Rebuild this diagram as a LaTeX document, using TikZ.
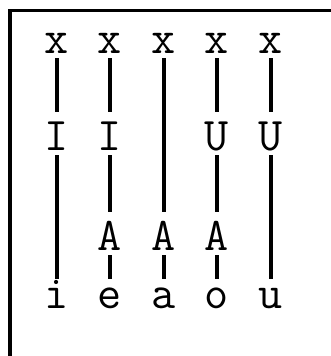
\documentclass[tikz,border=0pt]{standalone}
\usepackage{fontspec}
\tikzset{
  seg/.style={font=\ttfamily\fontsize{47}{47}\selectfont, inner sep=0pt,
              anchor=base, text height=38bp, text depth=5bp},
  vow/.style={seg, text height=29bp},
  tier/.style={line width=4bp},
  frameline/.style={line width=3bp},
}
\begin{document}
\begin{tikzpicture}[x=1bp, y=-1bp]
  \useasboundingbox (0,0) rectangle (331,356);
  \draw[frameline] (10,356) -- (10,10) -- (331,10);
  % skeleton
  \node[seg] (xi) at (57,53) {x};
  \node[seg] (xe) at (110,53) {x};
  \node[seg] (xa) at (164,53) {x};
  \node[seg] (xo) at (217,53) {x};
  \node[seg] (xu) at (271,53) {x};
  % elements
  \node[seg] (Ii) at (57,150) {I};
  \node[seg] (Ie) at (110,150) {I};
  \node[seg] (Uo) at (217,150) {U};
  \node[seg] (Uu) at (271,150) {U};
  \node[seg] (Ae) at (110,250) {A};
  \node[seg] (Aa) at (164,250) {A};
  \node[seg] (Ao) at (217,250) {A};
  % vowels
  \node[vow] (vi) at (57,308) {i};
  \node[vow] (ve) at (110,308) {e};
  \node[vow] (va) at (164,308) {a};
  \node[vow] (vo) at (217,308) {o};
  \node[vow] (vu) at (271,308) {u};
  \draw[tier] (xi) -- (Ii); \draw[tier] (Ii) -- (vi);
  \draw[tier] (xe) -- (Ie); \draw[tier] (Ie) -- (Ae); \draw[tier] (Ae) -- (ve);
  \draw[tier] (xa) -- (Aa); \draw[tier] (Aa) -- (va);
  \draw[tier] (xo) -- (Uo); \draw[tier] (Uo) -- (Ao); \draw[tier] (Ao) -- (vo);
  \draw[tier] (xu) -- (Uu); \draw[tier] (Uu) -- (vu);
\end{tikzpicture}
\end{document}
